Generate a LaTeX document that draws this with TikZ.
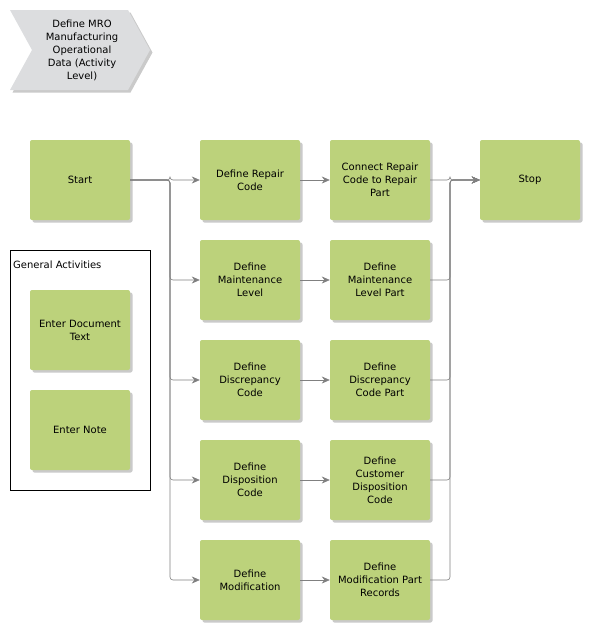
\documentclass[tikz,border=0pt]{standalone}
\usepackage{fontspec}
\setmainfont{DejaVu Sans}
\usetikzlibrary{arrows.meta,shadows,positioning}
\definecolor{actgreen}{RGB}{188,210,123}
\definecolor{chevgray}{RGB}{220,221,223}
\definecolor{linegray}{RGB}{128,128,128}
\tikzset{
    act/.style={rectangle, rounded corners=2pt, fill=actgreen, minimum width=100pt, minimum height=80pt,
        align=center, font=\fontsize{10}{13}\selectfont,
        drop shadow={shadow xshift=2.5pt, shadow yshift=-2.5pt, opacity=0.35, fill=black!60}},
    conn/.style={draw=linegray, semithick, rounded corners=3pt, -{Stealth[length=8pt,width=7pt]}},
}
\begin{document}
\begin{tikzpicture}[x=1pt, y=-1pt]

    \useasboundingbox (0,0) rectangle (590,630);

    % chevron
    \draw[fill=chevgray, draw=none, drop shadow={shadow xshift=2.5pt, shadow yshift=-2.5pt, opacity=0.35, fill=black!60}]
        (10,10) -- (128,10) -- (150,50) -- (128,90) -- (10,90) -- (32,50) -- cycle;
    \node[align=center, font=\fontsize{10}{13}\selectfont] (title) at (82,50) {Define MRO\\Manufacturing\\Operational\\Data (Activity\\Level)};

    % general activities
    \draw[] (10,250) rectangle (150,490);
    \node[anchor=west, inner sep=2pt, font=\fontsize{10}{13}\selectfont] (gen) at (11,265) {General Activities};
    \node[act] (doc) at (80,330) {Enter Document\\Text};
    \node[act] (note) at (80,430) {Enter Note};

    % start and stop
    \node[act] (start) at (80,180) {Start};
    \node[act] (stop) at (530,180) {Stop};

    \foreach \i/\yrow/\ltext/\rtext in {
        1/180/{Define Repair\\Code}/{Connect Repair\\Code to Repair\\Part},
        2/280/{Define\\Maintenance\\Level}/{Define\\Maintenance\\Level Part},
        3/380/{Define\\Discrepancy\\Code}/{Define\\Discrepancy\\Code Part},
        4/480/{Define\\Disposition\\Code}/{Define\\Customer\\Disposition\\Code},
        5/580/{Define\\Modification}/{Define\\Modification Part\\Records}} {
        \node[act] (a\i) at (250,\yrow) {\ltext};
        \node[act] (b\i) at (380,\yrow) {\rtext};
        \coordinate (jl\i) at (170,\yrow);
    } %end foreach

    \coordinate (jr) at (450,180);

    \foreach \i in {1,...,5} {
        \draw[conn] (start.east) -| (jl\i) -- (a\i.west);
        \draw[conn] (a\i.east) -- (b\i.west);
        \draw[conn] (b\i.east) -| (jr) -- (stop.west);
    } %end foreach

\end{tikzpicture}
\end{document}
